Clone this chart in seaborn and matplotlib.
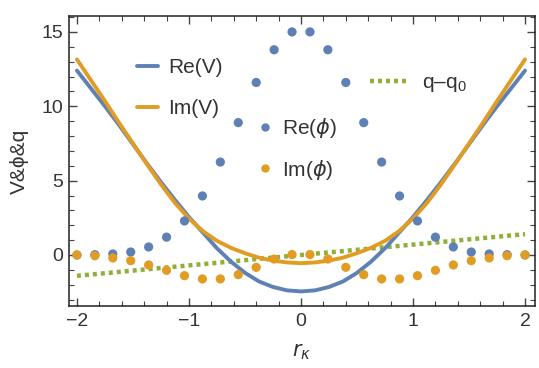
import numpy as np
import pandas as pd
import matplotlib
matplotlib.use("Agg")
import matplotlib.pyplot as plt
from matplotlib.lines import Line2D
from matplotlib.ticker import MultipleLocator
import seaborn as sns

# ---- data ----
x_curve = [-2.0, -1.875, -1.75, -1.625, -1.5, -1.375, -1.25, -1.125, -1.0, -0.875, -0.75,
           -0.625, -0.5, -0.375, -0.25, -0.125, 0.0, 0.125, 0.25, 0.375, 0.5, 0.625, 0.75,
           0.875, 1.0, 1.125, 1.25, 1.375, 1.5, 1.625, 1.75, 1.875, 2.0]
re_V = [12.4, 11.2, 10.0, 8.75, 7.45, 6.15, 4.9, 3.7, 2.55, 1.5, 0.45,
        -0.45, -1.2, -1.78, -2.15, -2.38, -2.45, -2.38, -2.15, -1.78, -1.2, -0.45, 0.45,
        1.5, 2.55, 3.7, 4.9, 6.15, 7.45, 8.75, 10.0, 11.2, 12.4]
im_V = [13.15, 11.75, 10.35, 8.9, 7.5, 6.1, 4.75, 3.5, 2.45, 1.6, 0.95,
        0.48, 0.12, -0.18, -0.38, -0.5, -0.55, -0.5, -0.38, -0.18, 0.12, 0.48, 0.95,
        1.6, 2.45, 3.5, 4.75, 6.1, 7.5, 8.9, 10.35, 11.75, 13.15]

x_phi = [-2.0, -1.84, -1.68, -1.52, -1.36, -1.2, -1.04, -0.88, -0.72, -0.56, -0.4, -0.24, -0.08,
         0.08, 0.24, 0.4, 0.56, 0.72, 0.88, 1.04, 1.2, 1.36, 1.52, 1.68, 1.84, 2.0]
re_phi = [0.0, 0.02, 0.07, 0.2, 0.54, 1.2, 2.29, 3.97, 6.25, 8.9, 11.6, 13.8, 15.0,
          15.0, 13.8, 11.6, 8.9, 6.25, 3.97, 2.29, 1.2, 0.54, 0.2, 0.07, 0.02, 0.0]
im_phi = [0.0, -0.05, -0.2, -0.38, -0.67, -1.03, -1.39, -1.61, -1.61, -1.32, -0.83, -0.27, 0.03,
          0.03, -0.27, -0.83, -1.32, -1.61, -1.61, -1.39, -1.03, -0.67, -0.38, -0.2, -0.05, 0.0]

x_q = [-2.0, 2.0]
q_diff = [-1.4, 1.4]

labels = {"reV": "Re(V)", "imV": "Im(V)", "rephi": r"Re($\mathit{\phi}$)",
          "imphi": r"Im($\mathit{\phi}$)", "q": r"q–q$_{\mathregular{0}}$"}

BLUE = "#5E81B5"
ORANGE = "#E19C24"
GREEN = "#8FB032"
TXT = "#333333"

sns.set_theme(style="white")
plt.rcParams["font.family"] = ["Liberation Sans", "DejaVu Sans"]
plt.rcParams["mathtext.fontset"] = "custom"
plt.rcParams["mathtext.rm"] = "Liberation Sans"
plt.rcParams["mathtext.it"] = "DejaVu Sans:italic"
plt.rcParams["mathtext.default"] = "regular"

fig = plt.figure(figsize=(5.39, 3.68), dpi=100)
ax = fig.add_axes([69/539, 1-306/368, (535-69)/539, (306-16)/368])

df_c = pd.DataFrame({"x": x_curve, "re": re_V, "im": im_V})
df_p = pd.DataFrame({"x": x_phi, "re": re_phi, "im": im_phi})
df_q = pd.DataFrame({"x": x_q, "q": q_diff})

sns.lineplot(data=df_q, x="x", y="q", ax=ax, color=GREEN, lw=3.2,
             linestyle=(0, (0.9, 0.9)), zorder=2)
sns.lineplot(data=df_c, x="x", y="re", ax=ax, color=BLUE, lw=2.8, zorder=3)
sns.lineplot(data=df_c, x="x", y="im", ax=ax, color=ORANGE, lw=2.8, zorder=3)
sns.scatterplot(data=df_p, x="x", y="re", ax=ax, color=BLUE, s=44, edgecolor="none", zorder=4)
sns.scatterplot(data=df_p, x="x", y="im", ax=ax, color=ORANGE, s=44, edgecolor="none", zorder=4)

ax.set_xlim(-2.071, 2.089)
ax.set_ylim(-3.43, 16.07)
ax.xaxis.set_major_locator(MultipleLocator(1))
ax.xaxis.set_minor_locator(MultipleLocator(0.2))
ax.yaxis.set_major_locator(MultipleLocator(5))
ax.yaxis.set_minor_locator(MultipleLocator(1))
ax.tick_params(which="both", direction="in", top=True, right=True, bottom=True, left=True,
               color="#444444", labelcolor=TXT, labelsize=14)
ax.tick_params(which="major", length=6, width=1)
ax.tick_params(which="minor", length=3.5, width=0.8)
ax.tick_params(axis="x", pad=5)
ax.tick_params(axis="y", pad=4)
ax.set_xticks([-2, -1, 0, 1, 2])
ax.set_xticklabels(["−2", "−1", "0", "1", "2"])
for s in ax.spines.values():
    s.set_color("#222222")
    s.set_linewidth(1.1)

ax.set_xlabel(r"$\mathit{r}_{\mathit{\kappa}}$", fontsize=15, color=TXT, labelpad=9)
ax.set_ylabel("V&ϕ&q", fontsize=15, color=TXT, labelpad=9)

fs = 15
h1 = [Line2D([], [], color=BLUE, lw=2.8), Line2D([], [], color=ORANGE, lw=2.8)]
leg1 = ax.legend(h1, [labels["reV"], labels["imV"]], loc="upper left",
                 bbox_to_anchor=(137/539, 1-58/368), bbox_transform=fig.transFigure,
                 frameon=False, fontsize=fs, handlelength=1.0, handletextpad=0.5,
                 labelspacing=1.05, borderpad=0, borderaxespad=0)
ax.add_artist(leg1)
h2 = [Line2D([], [], color=BLUE, marker="o", ls="none", markersize=5),
      Line2D([], [], color=ORANGE, marker="o", ls="none", markersize=5)]
leg2 = ax.legend(h2, [labels["rephi"], labels["imphi"]], loc="upper left",
                 bbox_to_anchor=(255/539, 1-116/368), bbox_transform=fig.transFigure,
                 frameon=False, fontsize=fs, handlelength=1.0, handletextpad=0.3,
                 labelspacing=0.85, borderpad=0, borderaxespad=0)
ax.add_artist(leg2)
h3 = [Line2D([], [], color=GREEN, lw=3.2, linestyle=(0, (0.9, 0.9)))]
leg3 = ax.legend(h3, [labels["q"]], loc="upper left",
                 bbox_to_anchor=(370/539, 1-73/368), bbox_transform=fig.transFigure,
                 frameon=False, fontsize=fs, handlelength=1.9, handletextpad=0.6,
                 borderpad=0, borderaxespad=0)
for lg in (leg1, leg2, leg3):
    for t in lg.get_texts():
        t.set_color(TXT)

fig.savefig("out.png", dpi=100)
